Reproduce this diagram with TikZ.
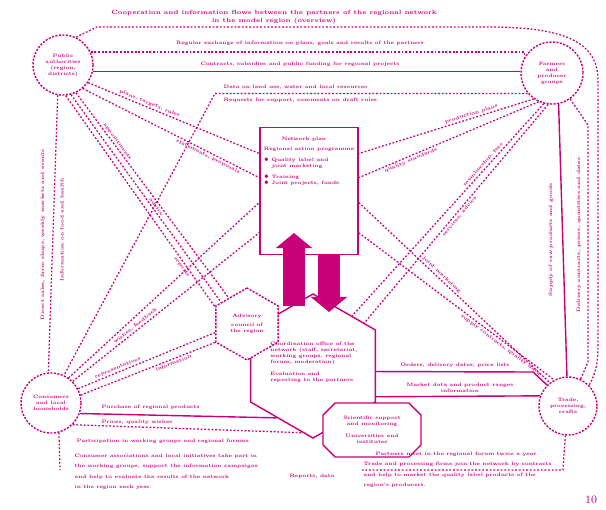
\documentclass[tikz,border=0pt]{standalone}
\usetikzlibrary{shapes.geometric,shapes.misc,arrows.meta}
\definecolor{magenta1}{RGB}{200,0,122}
\newcommand{\smalltxt}{\fontsize{3.5}{4.3}\selectfont\bfseries}
\tikzset{
  partner/.style={circle,draw=magenta1,line width=1pt,dash pattern=on 1.5pt off 1pt,
    minimum size=1.5cm,inner sep=0pt,align=center,text=magenta1,font=\smalltxt},
  hexa/.style={regular polygon,regular polygon sides=6,shape border rotate=30,
    draw=magenta1,line width=1pt,fill=white,inner sep=0pt},
  flow/.style={draw=magenta1,line width=0.9pt,dash pattern=on 1.3pt off 1.3pt},
  link/.style={draw=magenta1,line width=1pt},
  lbl/.style={text=magenta1,font=\smalltxt,inner sep=1pt},
  bigarrow/.style={magenta1,line width=0.55cm,-{Triangle[width=0.9cm,length=0.38cm]}}
}
\begin{document}
\begin{tikzpicture}[x=0.025cm,y=-0.025cm]
  \useasboundingbox (0,0) rectangle (606,509);
  % Title
  \node[lbl,font=\fontsize{4.3}{5.6}\selectfont\bfseries,align=center] (title) at (274,17)
    {Cooperation and information flows between the partners of the regional network\\in the model region (overview)};
  % Partners
  \node[partner] (tl) at (63,65) {Public\\authorities\\(region,\\districts)};
  \node[partner,minimum size=1.55cm] (tr) at (552,73) {Farmers\\and\\producer\\groups};
  \node[partner] (bl) at (51,403) {Consumers\\and local\\households};
  \node[partner,minimum size=1.45cm] (br) at (568,406) {Trade,\\processing,\\crafts};
  % Central box
  \node[draw=magenta1,line width=1pt,fill=white,minimum width=2.45cm,minimum height=3.18cm] (doc) at (309,191) {};
  \node[lbl,anchor=north,align=left] (doctext) at ([yshift=-0.22cm]doc.north)
    {\hspace*{0.45cm}Network plan\\[3pt]
     Regional action programme\\[3pt]
     $\bullet$ Quality label and\\
     \hspace*{0.2cm}joint marketing\\[4pt]
     $\bullet$ Training\\
     $\bullet$ Joint projects, funds};
  % Hexagons
  \node[hexa,minimum size=3.6cm] (hb) at (313,366) {};
  \node[hexa,minimum size=1.8cm,dash pattern=on 1.5pt off 1pt] (hs) at (247,324) {};
  \node[lbl,align=center] (hstext) at (hs.center) {Advisory\\[2pt]council of\\the region};
  \node[lbl,align=left] (hbtext) at (314,362)
    {Coordination office of the\\network (staff, secretariat,\\working groups, regional\\forum, moderation)\\[4pt]
     Evaluation and\\reporting to the partners};
  \node[chamfered rectangle,chamfered rectangle xsep=0.2cm,draw=magenta1,line width=1pt,fill=white,
    minimum width=2.45cm,minimum height=1.35cm,align=center,text=magenta1,font=\smalltxt] (ob) at (372,430)
    {Scientific support\\and monitoring\\[4pt]Universities and\\institutes};
  % Arrows
  \coordinate (upS) at (294,306);
  \coordinate (upE) at (294,233);
  \coordinate (dnS) at (329,255);
  \coordinate (dnE) at (329,312);
  \draw[bigarrow] (upS) -- (upE);
  \draw[bigarrow] (dnS) -- (dnE);
  % Frame
  \coordinate (f1) at (97,27);
  \coordinate (f2) at (488,27);
  \coordinate (f3) at (598,80);
  \coordinate (f4) at (598,345);
  \draw[flow] (tl.65) -- (f1) -- (f2) .. controls (560,27) and (598,40) .. (f3) -- (f4)
    .. controls (598,365) and (595,375) .. (br.45);
  % Upper links
  \draw[flow] (tl.25) -- (tl.25 -| tr.150) -- (tr.150);
  \node[lbl] (lb1) at (300,43) {Regular exchange of information on plans, goals and results of the partners};
  \draw[link] (tl.-12) -- (tl.-12 -| tr.west);
  \node[lbl] (lb2) at (300,64) {Contracts, subsidies and public funding for regional projects};
  \coordinate (kink) at (215,93);
  \draw[flow] (tr.-140) -- (tr.-140 -| kink) -- (bl.65);
  \node[lbl,anchor=west] (lb3) at (222,87) {Data on land use, water and local resources};
  \node[lbl,anchor=west] (lb4) at (222,100) {Requests for support, comments on draft rules};
  % Diagonals
  \draw[flow] (tl.-35) -- (doc.143) node[lbl,sloped,pos=0.35,above] {plans, targets, rules};
  \draw[flow] (tl.-50) -- (doc.165) node[lbl,sloped,pos=0.72,below] {statements, proposals};
  \draw[flow] (tl.-65) -- (hs.125) node[lbl,sloped,pos=0.25,above] {appointments};
  \draw[flow] (tl.-75) -- (hs.140) node[lbl,sloped,pos=0.55,above] {advice};
  \draw[flow] (tl.-85) -- (hs.152) node[lbl,sloped,pos=0.8,below] {reports};
  \draw[flow] (bl.55) -- (doc.193);
  \draw[flow] (bl.45) -- (doc.220) node[lbl,sloped,pos=0.35,above] {wishes, feedback};
  \draw[flow] (bl.28) -- (hs.195) node[lbl,sloped,pos=0.3,above] {representatives};
  \draw[flow] (bl.15) -- (hs.210) node[lbl,sloped,pos=0.68,below] {information};
  \draw[flow] (tr.-125) -- (doc.37) node[lbl,sloped,pos=0.35,above] {production plans};
  \draw[flow] (tr.-115) -- (doc.15) node[lbl,sloped,pos=0.72,below] {quality standards};
  \draw[flow] (tr.-105) -- (hb.52) node[lbl,sloped,pos=0.3,above] {membership, fees};
  \draw[flow] (tr.-97) -- (hb.40) node[lbl,sloped,pos=0.5,below] {services, advice};
  \draw[flow] (doc.-13) -- (br.128) node[lbl,sloped,pos=0.42,above] {joint marketing};
  \draw[flow] (doc.-40) -- (br.118) node[lbl,sloped,pos=0.74,below] {supply contracts, quality data};
  % Verticals
  \draw[flow] (tl.-100) -- (bl.95);
  \node[lbl,rotate=90] (lv1) at (43,235) {Direct sales, farm shops, weekly markets and events};
  \node[lbl,rotate=90] (lv2) at (62,230) {Information on food and health};
  \draw[link] (tr.-78) -- (br.92);
  \coordinate (rv1) at (588,125);
  \coordinate (rv2) at (588,362);
  \draw[flow] (tr.-55) -- (rv1) -- (rv2) -- (br.65);
  \node[lbl,rotate=90] (rt1) at (551,240) {Supply of raw products and goods};
  \node[lbl,rotate=90] (rt2) at (579,235) {Delivery contracts, prices, quantities and dates};
  % Bottom links
  \draw[link] (bl.-20) -- (hb.235);
  \node[lbl,anchor=west] (lb5) at (100,407) {Purchase of regional products};
  \node[lbl,anchor=west] (lb6) at (100,422) {Prices, quality wishes};
  \draw[flow] (bl.-45) -- (hb.261);
  \node[lbl,anchor=west] (lb7) at (75,441) {Participation in working groups and regional forums};
  \coordinate (rA) at (533,372);
  \draw[link] (hb.-5.5) -- (rA) -- (br.135);
  \draw[link] (hb.-26) -- (br.160);
  \node[lbl] (lb8) at (455,365) {Orders, delivery dates, price lists};
  \node[lbl,align=center] (lb9) at (460,388) {Market data and product ranges\\information};
  \node[lbl] (lb10) at (312,476) {Reports, data};
  % Bottom texts
  \coordinate (blf) at (60,470);
  \draw[flow] (bl.-75) -- (blf);
  \node[lbl,anchor=north west,align=left,font=\fontsize{3.5}{7.5}\selectfont\bfseries] (txtL) at (73,452)
    {Consumer associations and local initiatives take part in\\
     the working groups, support the information campaigns\\
     and help to evaluate the results of the network\\
     in the region each year.};
  \coordinate (brf) at (563,470);
  \coordinate (brf2) at (362,470);
  \draw[flow] (br.-95) -- (brf) -- (brf2);
  \node[lbl,anchor=north west,align=left,font=\fontsize{3.5}{7.5}\selectfont\bfseries] (txtR) at (362,450)
    {\hspace*{0.3cm}Partners meet in the regional forum twice a year\\
     Trade and processing firms join the network by contracts\\
     and help to market the quality label products of the\\
     region's producers.};
  % Page number
  \node[lbl,font=\fontsize{8}{9}\selectfont] (page) at (591,500) {10};
\end{tikzpicture}
\end{document}
